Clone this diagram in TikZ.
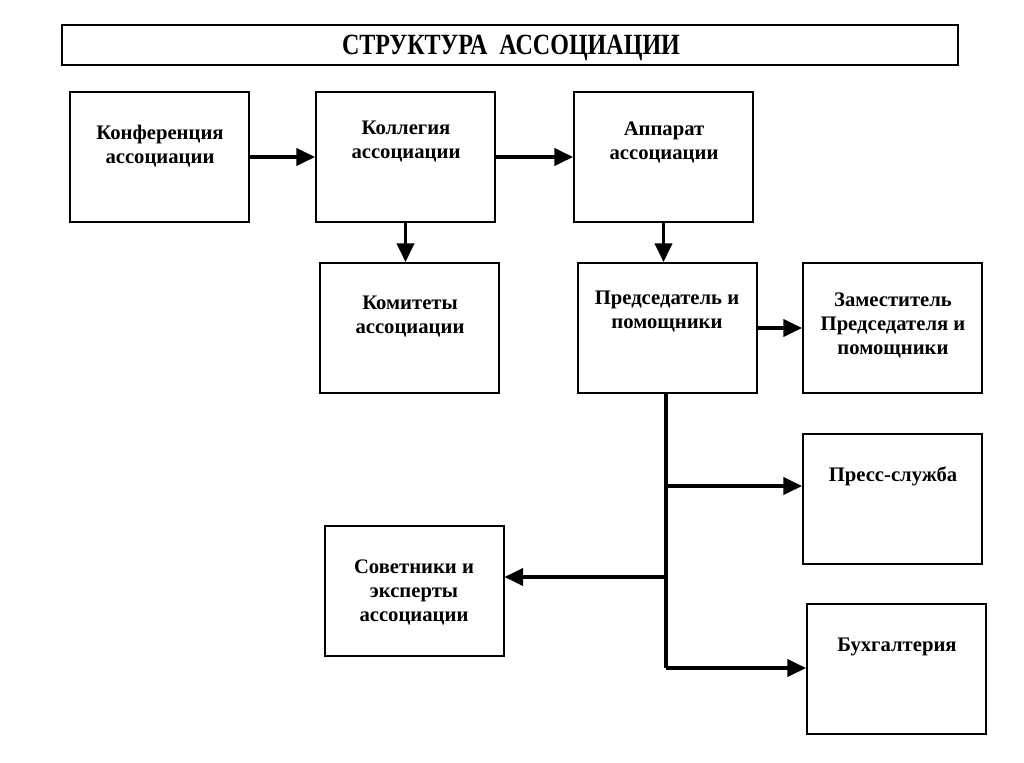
\documentclass[tikz,border=0pt]{standalone}
\usepackage{fontspec}
\setmainfont{Liberation Serif}
\usetikzlibrary{arrows.meta}
\begin{document}
\begin{tikzpicture}[x=0.75pt,y=-0.75pt,
  box/.style={draw, line width=1.5pt, minimum width=134.25pt, minimum height=97.5pt, inner sep=0pt},
  txt/.style={align=center, font=\bfseries\fontsize{15.5pt}{18pt}\selectfont, inner sep=0pt},
  arr/.style={line width=2.4pt, -{Triangle[length=14pt,width=13pt]}},
  ln/.style={line width=2.4pt}]
\useasboundingbox (0,0) rectangle (1024,763);
\node[draw, line width=2.2pt, minimum width=672pt, minimum height=30pt, inner sep=0pt] (title) at (510,45) {};
\node[font=\bfseries\addfontfeature{FakeStretch=0.82}\fontsize{22pt}{24pt}\selectfont, inner sep=0pt] (tt) at (511,48) {СТРУКТУРА\ \ АССОЦИАЦИИ};

\node[box] (konf) at (159.5,157) {};
\node[box] (koll) at (405.5,157) {};
\node[box] (app) at (663.5,157) {};
\node[box] (kom) at (409.5,328) {};
\node[box] (pred) at (667,328) {};
\node[box] (zam) at (892.5,328) {};
\node[box] (press) at (892.5,499) {};
\node[box] (sov) at (414,590.5) {};
\node[box] (buh) at (896.5,669) {};

\node[txt] (tkonf) at (160,146) {Конференция\\ассоциации};
\node[txt] (tkoll) at (406,142) {Коллегия\\ассоциации};
\node[txt] (tapp) at (664,142) {Аппарат\\ассоциации};
\node[txt] (tkom) at (410,317) {Комитеты\\ассоциации};
\node[txt] (tpred) at (667,312) {Председатель и\\помощники};
\node[txt] (tzam) at (893,325) {Заместитель\\Председателя и\\помощники};
\node[txt] (tpress) at (893,476) {Пресс-служба};
\node[txt] (tsov) at (414,592) {Советники и\\эксперты\\ассоциации};
\node[txt] (tbuh) at (897,647) {Бухгалтерия};

\draw[arr] (konf.east) -- (koll.west);
\draw[arr] (koll.east) -- (app.west);
\draw[arr] (koll.south) -- (koll.south |- kom.north);
\draw[arr] (app.south) -- (app.south |- pred.north);
\draw[arr] (pred.east) -- (zam.west);
\coordinate (j0) at (pred.south -| 666,0);
\coordinate (j1) at (666,486);
\coordinate (j2) at (666,577);
\coordinate (j3) at (666,668);
\draw[ln] (j0) -- (j3);
\draw[arr] (j1) -- (j1 -| press.west);
\draw[arr] (j2) -- (j2 -| sov.east);
\draw[arr] (j3) -- (j3 -| buh.west);
\end{tikzpicture}
\end{document}
